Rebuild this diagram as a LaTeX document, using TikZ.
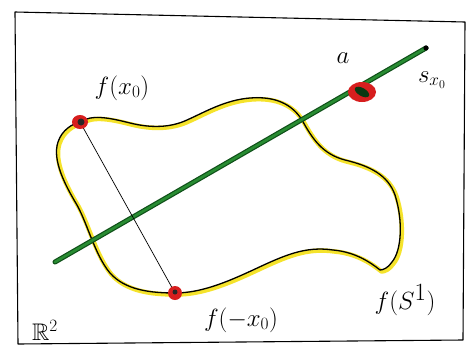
\documentclass[tikz,border=0pt]{standalone}
\usepackage{amssymb}
\definecolor{lgreen}{RGB}{40,140,50}
\definecolor{dgreen}{RGB}{15,80,25}
\definecolor{hyellow}{RGB}{245,225,20}
\definecolor{dotred}{RGB}{215,30,30}
\tikzset{
  lbl/.style={inner sep=0pt, font=\fontsize{26}{30}\selectfont},
  reddot/.style={fill=dotred, draw=none},
}
\begin{document}
\begin{tikzpicture}[x=1pt,y=-1pt,line cap=round,line join=round]
\useasboundingbox[fill=white] (0,0) rectangle (472,349);
% frame
\draw[line width=1.1pt] (15,12) -- (465,22) -- (463,340) -- (18,344) -- cycle;
% curve points
\coordinate (fx) at (80,122);
\coordinate (fmx) at (175,293);
\def\curvepath{(80,122) .. controls (92,114) and (110,118) .. (130,123)
  .. controls (150,128) and (170,128) .. (187,120)
  .. controls (205,112) and (225,100) .. (250,98)
  .. controls (275,96) and (292,104) .. (302,120)
  .. controls (312,138) and (322,154) .. (345,160)
  .. controls (370,166) and (388,175) .. (395,195)
  .. controls (403,220) and (402,250) .. (392,262)
  .. controls (388,268) and (383,270) .. (380,270)
  .. controls (370,262) and (355,252) .. (333,250)
  .. controls (305,246) and (285,255) .. (253,270)
  .. controls (225,283) and (200,293) .. (175,293)
  .. controls (150,293) and (125,290) .. (110,273)
  .. controls (95,255) and (88,225) .. (77,205)
  .. controls (65,185) and (52,160) .. (58,142)
  .. controls (62,130) and (72,124) .. (80,122)}
% yellow highlight
\draw[hyellow, line width=4.5pt, opacity=0.9, shift={(1.5,1.5)}] \curvepath;
\draw[black, line width=1.3pt] \curvepath;
% green line
\coordinate (l1) at (55,262);
\coordinate (l2) at (426,48);
\draw[dgreen, line width=5pt] (l1) -- (l2);
\draw[lgreen, line width=2.6pt] (l1) -- (l2);
\fill[black] (l2) circle (2.6);
% chord
\draw[black, line width=0.7pt] (fx) -- (fmx);
% points
\fill[reddot] (fx) ellipse (8 and 7);
\fill[black!85] (81,122) circle (3.5);
\fill[reddot] (fmx) ellipse (7 and 7);
\fill[black!85] (175,292) circle (2.5);
\fill[reddot] (362,92) ellipse (14 and 10);
\fill[dgreen!70!black, rotate around={-30:(362,92)}] (362,92) ellipse (8 and 4);
% labels
\node[lbl] (lfx) at (122,88) {$f(x_0)$};
\node[lbl] (la) at (343,58) {$a$};
\node[lbl] (ls) at (432,80) {$s_{x_0}$};
\node[lbl] (lfmx) at (241,320) {$f(-x_0)$};
\node[inner sep=0pt, font=\fontsize{38}{44}\selectfont] (lfs) at (405,300) {$f(S^1)$};
\node[inner sep=0pt, font=\fontsize{24}{28}\selectfont] (lr) at (45,330) {$\mathbb{R}^2$};
\end{tikzpicture}
\end{document}
